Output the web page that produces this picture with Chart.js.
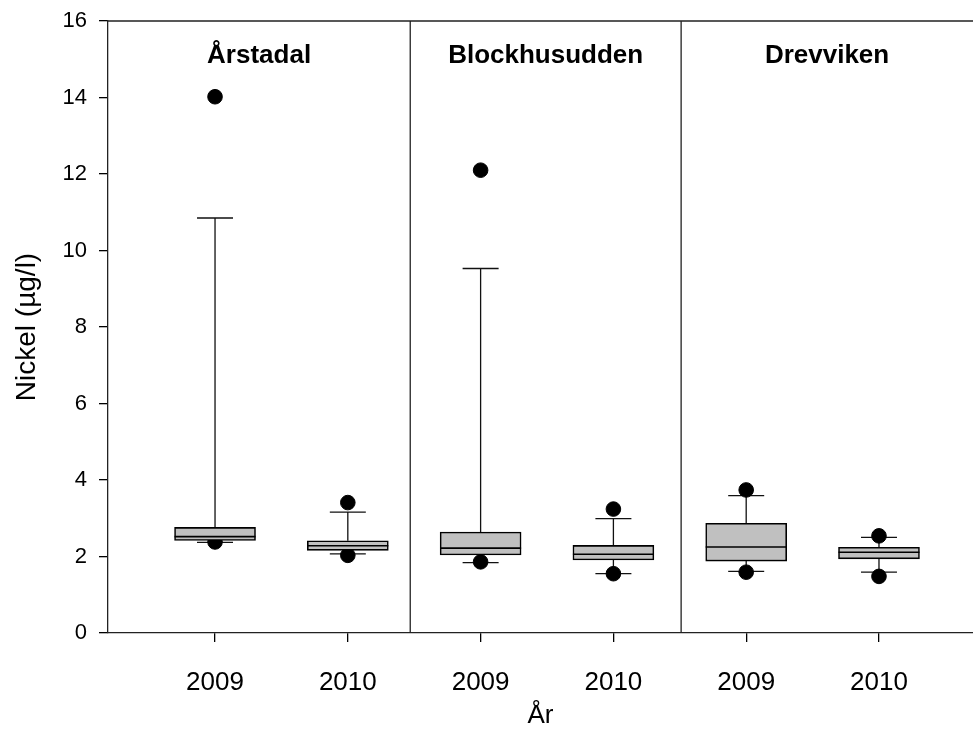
<!DOCTYPE html>
<html>
<head>
<meta charset="utf-8">
<script src="https://cdn.jsdelivr.net/npm/chart.js@4.4.0/dist/chart.umd.min.js"></script>
<style>
  html, body { margin: 0; padding: 0; background: #fff; }
</style>
</head>
<body>
<canvas id="nickel" width="973" height="731"></canvas>
<script>
// categories
const years = ['2009', '2010', '2009', '2010', '2009', '2010'];
const sites = ['Årstadal', 'Blockhusudden', 'Drevviken'];
const positions = [1, 2, 3, 4, 5, 6];

// box plot values (µg/l)
const q1 = [2.42, 2.16, 2.04, 1.91, 1.88, 1.94];
const median = [2.52, 2.28, 2.22, 2.06, 2.25, 2.11];
const q3 = [2.76, 2.41, 2.64, 2.29, 2.87, 2.24];
const whiskerLow = [2.37, 2.07, 1.84, 1.55, 1.61, 1.59];
const whiskerHigh = [10.85, 3.16, 9.53, 2.99, 3.59, 2.50];
const outlierHigh = [14.02, 3.41, 12.10, 3.24, 3.74, 2.54];
const outlierLow = [2.38, 2.03, 1.86, 1.55, 1.59, 1.48];

// panel separators (x units) and y ticks
const dividers = [2.47, 4.51];
const yTicks = [0, 2, 4, 6, 8, 10, 12, 14, 16];

const FONT = 'Arial, "Liberation Sans", sans-serif';

const boxes = positions.map((p, i) => ({ x: p, y: [q1[i], q3[i]] }));
const dots = [];
positions.forEach((p, i) => {
    dots.push({ x: p, y: outlierHigh[i] });
    dots.push({ x: p, y: outlierLow[i] });
});

const boxExtras = {
    id: 'boxExtras',
    beforeDatasetsDraw(chart) {
        const { ctx, scales: { x, y } } = chart;
        ctx.save();
        ctx.strokeStyle = '#111';
        ctx.lineWidth = 1.3;
        positions.forEach((p, i) => {
            const px = x.getPixelForValue(p);
            const hi = y.getPixelForValue(whiskerHigh[i]);
            const lo = y.getPixelForValue(whiskerLow[i]);
            ctx.beginPath();
            ctx.moveTo(px, y.getPixelForValue(q3[i]));
            ctx.lineTo(px, hi);
            ctx.moveTo(px, y.getPixelForValue(q1[i]));
            ctx.lineTo(px, lo);
            ctx.moveTo(px - 18, hi);
            ctx.lineTo(px + 18, hi);
            ctx.moveTo(px - 18, lo);
            ctx.lineTo(px + 18, lo);
            ctx.stroke();
        });
        ctx.restore();
    },
    afterDatasetsDraw(chart) {
        const { ctx, chartArea, scales: { x, y } } = chart;
        ctx.save();
        ctx.strokeStyle = '#000';
        ctx.lineWidth = 1.6;
        positions.forEach((p, i) => {
            const px = x.getPixelForValue(p);
            const py = y.getPixelForValue(median[i]);
            ctx.beginPath();
            ctx.moveTo(px - 40.5, py);
            ctx.lineTo(px + 40.5, py);
            ctx.stroke();
        });
        // top frame and panel dividers
        ctx.lineWidth = 1.3;
        ctx.strokeStyle = '#222';
        ctx.beginPath();
        ctx.moveTo(chartArea.left, chartArea.top);
        ctx.lineTo(chartArea.right, chartArea.top);
        dividers.forEach(d => {
            const px = x.getPixelForValue(d);
            ctx.moveTo(px, chartArea.top);
            ctx.lineTo(px, chartArea.bottom);
        });
        ctx.stroke();
        // site names
        const edges = [x.min, ...dividers, x.max];
        ctx.fillStyle = '#000';
        ctx.font = 'bold 26px ' + FONT;
        ctx.textAlign = 'center';
        ctx.textBaseline = 'middle';
        sites.forEach((s, i) => {
            const px = x.getPixelForValue((edges[i] + edges[i + 1]) / 2);
            ctx.fillText(s, px, y.getPixelForValue(15.1));
        });
        ctx.restore();
    }
};

new Chart(document.getElementById('nickel'), {
    type: 'bar',
    data: {
        datasets: [{
            type: 'bar',
            data: boxes,
            backgroundColor: '#c0c0c0',
            borderColor: '#000',
            borderWidth: 1.6,
            borderSkipped: false,
            barThickness: 81
        }, {
            type: 'scatter',
            data: dots,
            backgroundColor: '#000',
            borderColor: '#000',
            pointRadius: 7.3,
            pointHoverRadius: 7.3
        }]
    },
    options: {
        responsive: false,
        animation: false,
        events: [],
        layout: { autoPadding: false, padding: { top: 21, left: 0, right: 0, bottom: 0 } },
        plugins: {
            legend: { display: false },
            tooltip: { enabled: false }
        },
        scales: {
            x: {
                type: 'linear',
                min: 0.194,
                max: 6.708,
                offset: false,
                afterBuildTicks(scale) {
                    scale.ticks = positions.map(v => ({ value: v }));
                },
                afterFit(scale) {
                    scale.height = 98;
                    scale.paddingLeft = 0;
                    scale.paddingRight = 0;
                },
                ticks: {
                    callback: (v) => years[positions.indexOf(v)],
                    color: '#000',
                    font: { family: FONT, size: 26 },
                    padding: 25,
                    maxRotation: 0,
                    autoSkip: false
                },
                grid: { offset: false, drawOnChartArea: false, tickLength: 9, color: '#000', lineWidth: 1.3 },
                border: { display: true, color: '#222', width: 1.3 },
                title: {
                    display: true,
                    text: 'År',
                    color: '#000',
                    font: { family: FONT, size: 26, lineHeight: 1 },
                    padding: { top: 0, bottom: 2 }
                }
            },
            y: {
                min: 0,
                max: 16,
                afterBuildTicks(scale) {
                    scale.ticks = yTicks.map(v => ({ value: v }));
                },
                afterFit(scale) {
                    scale.width = 108;
                    scale.paddingTop = 0;
                    scale.paddingBottom = 0;
                },
                ticks: {
                    color: '#000',
                    font: { family: FONT, size: 22 },
                    padding: 12
                },
                grid: { drawOnChartArea: false, tickLength: 9, color: '#000', lineWidth: 1.3 },
                border: { display: true, color: '#222', width: 1.3 },
                title: {
                    display: true,
                    text: 'Nickel (µg/l)',
                    color: '#000',
                    font: { family: FONT, size: 28, lineHeight: 1.2 },
                    padding: { top: 10, bottom: 0 }
                }
            }
        }
    },
    plugins: [boxExtras]
});
</script>
</body>
</html>
